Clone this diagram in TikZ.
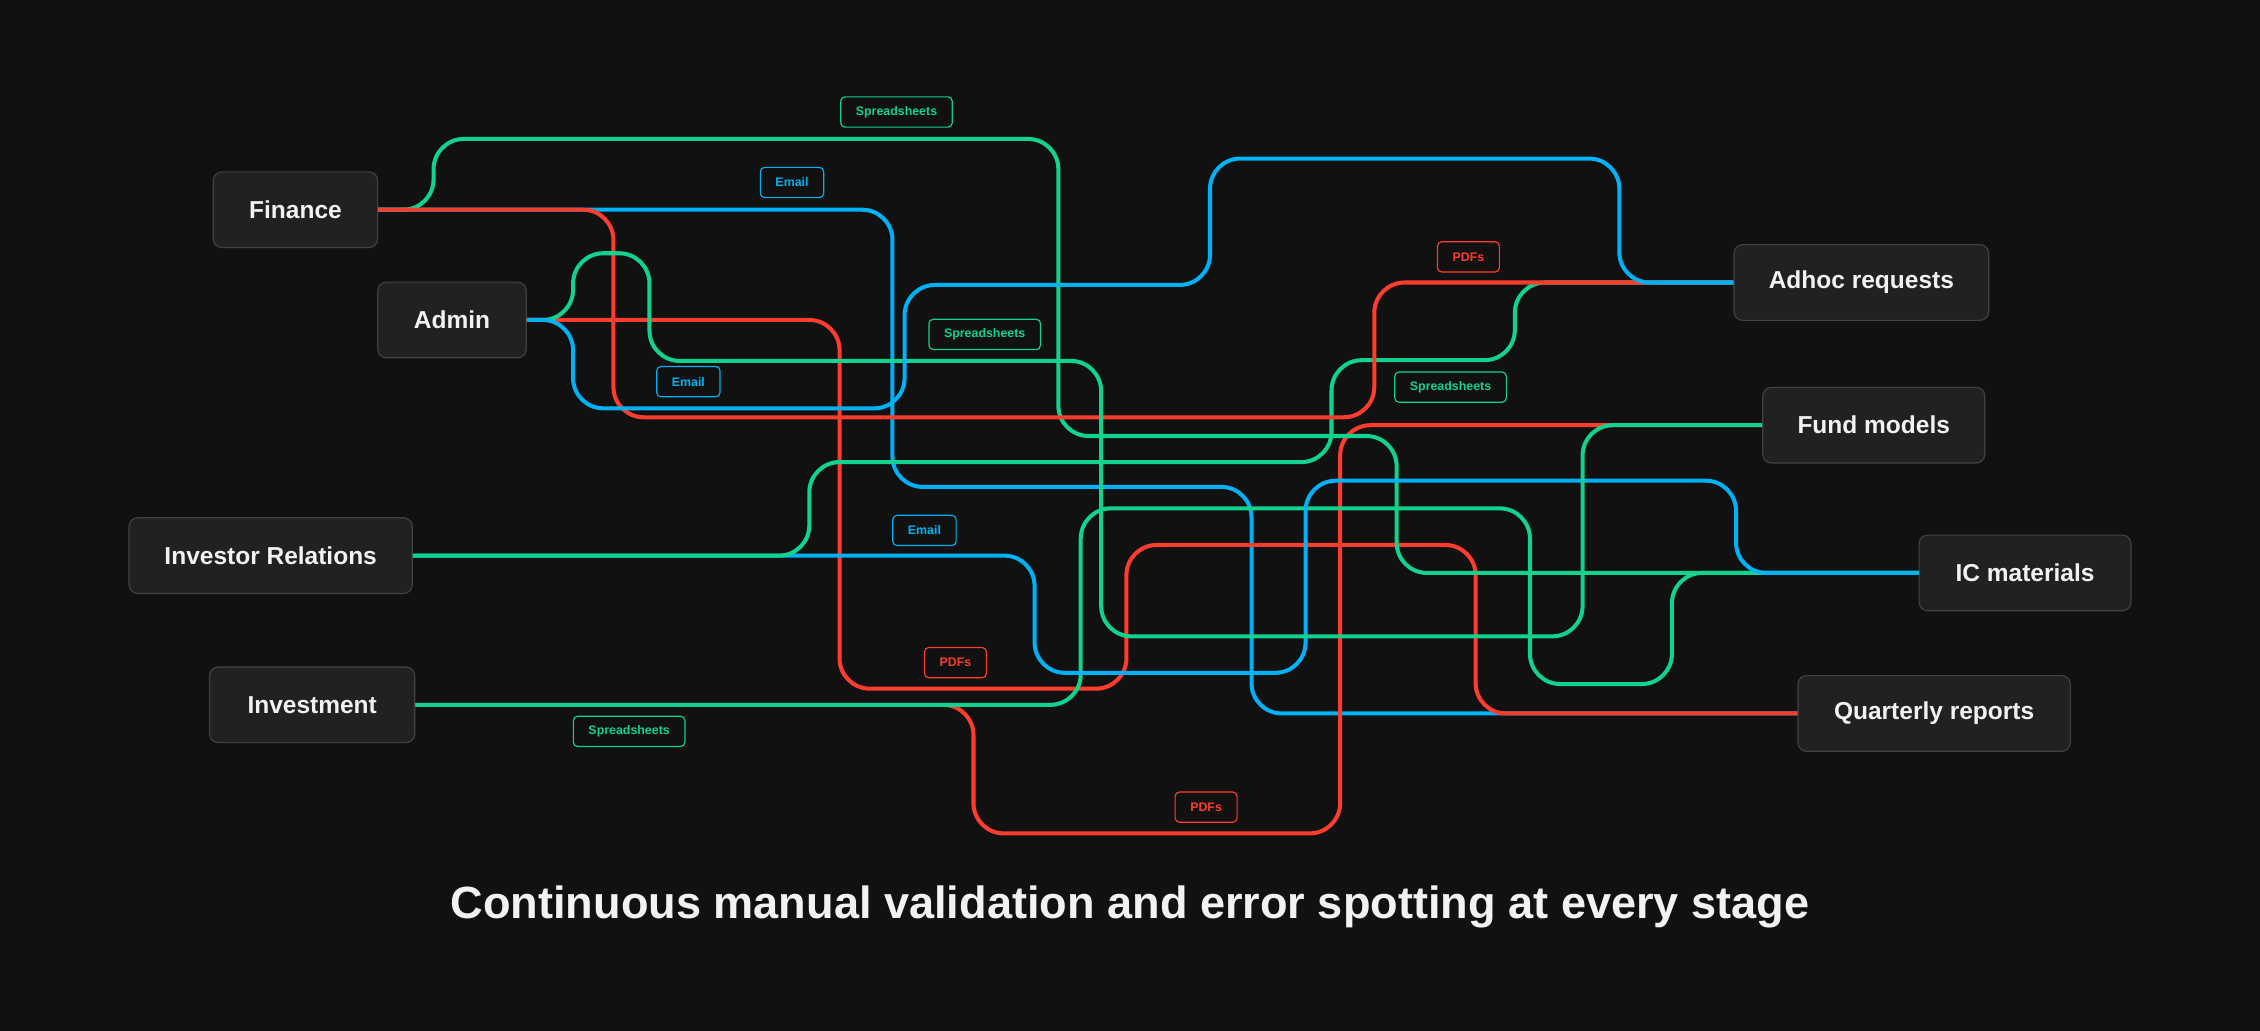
\documentclass[tikz,border=0pt]{standalone}
\usepackage{fontspec}
\setmainfont{Liberation Sans}
\definecolor{bgc}{HTML}{111111}
\definecolor{boxfill}{HTML}{212121}
\definecolor{boxline}{HTML}{424242}
\definecolor{sheetc}{HTML}{12D38E}
\definecolor{mailc}{HTML}{00B2F5}
\definecolor{pdfc}{HTML}{FF3D2E}
\definecolor{capc}{HTML}{F2F2F2}

\begin{document}
\begin{tikzpicture}[x=1pt, y=-1pt,
  box/.style={draw=boxline, fill=boxfill, rounded corners=6pt, line width=0.8pt,
    minimum height=52.5pt, inner sep=0pt, text=capc,
    font=\fontsize{17}{20}\selectfont\bfseries},
  tag/.style={draw=#1, text=#1, fill=bgc, rounded corners=3pt, line width=0.8pt,
    minimum height=21pt, inner ysep=0pt, inner xsep=10.5pt,
    font=\fontsize{8.6}{10}\selectfont\bfseries},
  wire/.style={line width=2.8pt, rounded corners=21pt, #1}
]

\fill[bgc] (0,0) rectangle (1568,715);

% sources
\node[box, minimum width=114pt] (fin) at (205,145.5) {Finance};
\node[box, minimum width=103pt] (adm) at (313.6,222) {Admin};
\node[box, minimum width=196.5pt] (ir) at (187.8,385.5) {Investor Relations};
\node[box, minimum width=142.3pt] (inv) at (216.6,489) {Investment};

% outputs
\node[box, minimum width=176.7pt] (adh) at (1291.4,196) {Adhoc requests};
\node[box, minimum width=154pt] (fund) at (1300,295) {Fund models};
\node[box, minimum width=147pt] (ic) at (1405,397.5) {IC materials};
\node[box, minimum width=189pt] (qr) at (1341.9,495) {Quarterly reports};

% wires
\draw[wire=mailc] (fin.east) -| (619.2,337.8) -| (868.3,495) -- (qr.west);
\draw[wire=pdfc] (adm.east) -| (582.5,477.8) -| (781.5,378.1) -| (1023.8,495) -- (qr.west);
\draw[wire=pdfc] (inv.east) -| (675.4,578.2) -| (929.8,295) -- (fund.west);
\draw[wire=sheetc] (fin.east) -| (300.8,96.4) -| (734.3,302.5) -| (969,397.5) -- (ic.west);
\draw[wire=sheetc] (inv.east) -| (749.8,352.7) -| (1061.5,474.6) -| (1160,397.5) -- (ic.west);
\draw[wire=mailc] (ir.east) -| (717.8,466.8) -| (905.8,333.5) -| (1204.5,397.5) -- (ic.west);
\draw[wire=sheetc] (ir.east) -| (561.5,320.6) -| (923.8,249.9) -| (1051,196) -- (adh.west);
\draw[wire=pdfc] (fin.east) -| (425.6,289.5) -| (953.5,196) -- (adh.west);
\draw[wire=sheetc] (adm.east) -| (397.6,175.7) -| (450.6,250.4) -| (764,441.5) -| (1098,295) -- (fund.west);
\draw[wire=mailc] (adm.east) -| (397.6,283.3) -| (627.6,197.7) -| (839.5,110) -| (1123.5,196) -- (adh.west);

% tags
\foreach \px/\py/\txt/\col [count=\i] in {
  622/77.7/Spreadsheets/sheetc, 549.5/126.6/Email/mailc,
  1018.8/178.2/PDFs/pdfc, 683.2/232/Spreadsheets/sheetc,
  477.6/264.8/Email/mailc, 1006.4/268.6/Spreadsheets/sheetc,
  641.4/368/Email/mailc, 662.9/459.7/PDFs/pdfc,
  436.5/507.4/Spreadsheets/sheetc, 836.8/560/PDFs/pdfc}
  \node[tag=\col] (tag\i) at (\px,\py) {\txt};

\node[text=capc, font=\fontsize{31.3}{36}\selectfont\bfseries] (cap) at (784,629)
  {Continuous manual validation and error spotting at every stage};

\end{tikzpicture}
\end{document}
